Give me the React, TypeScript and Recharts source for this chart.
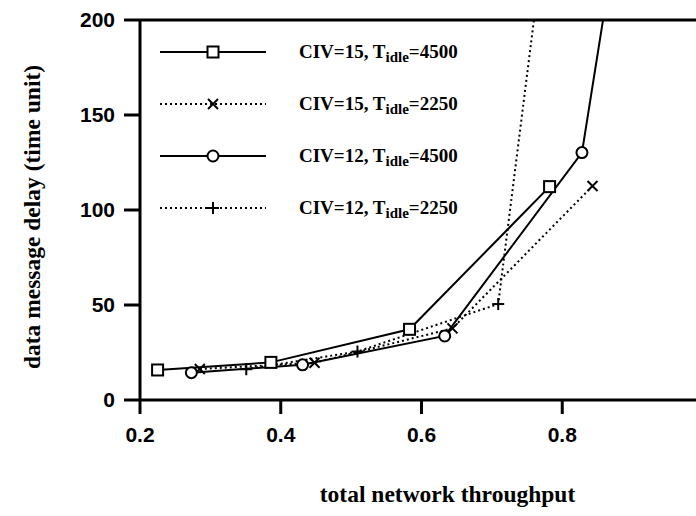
import { LineChart, Line, XAxis, YAxis, ReferenceLine, Legend, Label } from 'recharts';

// axis ticks
const xTicks = [0.2, 0.4, 0.6, 0.8];
const yTicks = [0, 50, 100, 150, 200];

// CIV=15, Tidle=4500 (solid, squares)
const civ15Idle4500X = [0.225, 0.386, 0.583, 0.782];
const civ15Idle4500Y = [15.8, 19.8, 37.2, 112.3];

// CIV=15, Tidle=2250 (dotted, crosses)
const civ15Idle2250X = [0.285, 0.448, 0.644, 0.843];
const civ15Idle2250Y = [16.3, 19.6, 37.7, 112.6];

// CIV=12, Tidle=4500 (solid, circles) - last point is off the top
const civ12Idle4500X = [0.273, 0.431, 0.633, 0.828, 0.9];
const civ12Idle4500Y = [14.4, 18.5, 33.7, 130.2, 298];

// CIV=12, Tidle=2250 (dotted, plus) - last point is off the top
const civ12Idle2250X = [0.351, 0.509, 0.709, 0.79];
const civ12Idle2250Y = [16.2, 25.5, 50.5, 289];

const toPoints = (xs: number[], ys: number[]) => xs.map((x, i) => ({ x, y: ys[i] }));

type Shape = 'square' | 'cross' | 'circle' | 'plus';

const series: { civ: string; idle: string; shape: Shape; dotted: boolean; data: { x: number; y: number }[] }[] = [
  { civ: '15', idle: '4500', shape: 'square', dotted: false, data: toPoints(civ15Idle4500X, civ15Idle4500Y) },
  { civ: '15', idle: '2250', shape: 'cross', dotted: true, data: toPoints(civ15Idle2250X, civ15Idle2250Y) },
  { civ: '12', idle: '4500', shape: 'circle', dotted: false, data: toPoints(civ12Idle4500X, civ12Idle4500Y) },
  { civ: '12', idle: '2250', shape: 'plus', dotted: true, data: toPoints(civ12Idle2250X, civ12Idle2250Y) },
];

const DOTS = '2 3';

function Marker({ shape, cx, cy }: { shape: Shape; cx: number; cy: number }) {
  if (shape === 'square')
    return <rect x={cx - 5.5} y={cy - 5.5} width={11} height={11} fill="#fff" stroke="#000" strokeWidth={2} />;
  if (shape === 'circle') return <circle cx={cx} cy={cy} r={5.5} fill="#fff" stroke="#000" strokeWidth={2} />;
  if (shape === 'cross')
    return (
      <g stroke="#000" strokeWidth={2}>
        <line x1={cx - 5} y1={cy - 5} x2={cx + 5} y2={cy + 5} />
        <line x1={cx - 5} y1={cy + 5} x2={cx + 5} y2={cy - 5} />
      </g>
    );
  return (
    <g stroke="#000" strokeWidth={2}>
      <line x1={cx - 6} y1={cy} x2={cx + 6} y2={cy} />
      <line x1={cx} y1={cy - 6} x2={cx} y2={cy + 6} />
    </g>
  );
}

const dotFor = (shape: Shape) => (props: any) => {
  const { cx, cy, key, index } = props;
  if (cx == null || cy == null) return <g key={key ?? index} />;
  return (
    <g key={key ?? index}>
      <Marker shape={shape} cx={cx} cy={cy} />
    </g>
  );
};

function LegendBox() {
  return (
    <div style={{ fontFamily: '"Liberation Serif", serif', fontWeight: 'bold', fontSize: 19, color: '#000' }}>
      {series.map((s) => (
        <div key={s.civ + s.idle} style={{ height: 52, display: 'flex', alignItems: 'center' }}>
          <svg width={106} height={16} style={{ display: 'block' }}>
            <line x1={0} y1={8} x2={106} y2={8} stroke="#000" strokeWidth={2} strokeDasharray={s.dotted ? DOTS : undefined} />
            <Marker shape={s.shape} cx={53} cy={8} />
          </svg>
          <span style={{ marginLeft: 33, whiteSpace: 'nowrap' }}>
            CIV={s.civ}, T<span style={{ fontSize: 15, position: 'relative', top: 4 }}>idle</span>={s.idle}
          </span>
        </div>
      ))}
    </div>
  );
}

const XTitle = (props: any) => {
  const vb = props.viewBox;
  return (
    <text x={vb.x + vb.width / 2 + 26} y={vb.y + 102} textAnchor="middle" fill="#000"
      style={{ fontFamily: '"Liberation Serif", serif', fontWeight: 'bold', fontSize: 23.5 }}>
      total network throughput
    </text>
  );
};

const YTitle = (props: any) => {
  const vb = props.viewBox;
  const cx = vb.x + 32;
  const cy = vb.y + vb.height / 2 + 7;
  return (
    <text x={cx} y={cy} textAnchor="middle" dominantBaseline="central" transform={`rotate(-90 ${cx} ${cy})`} fill="#000"
      style={{ fontFamily: '"Liberation Serif", serif', fontWeight: 'bold', fontSize: 23.5 }}>
      data message delay (time unit)
    </text>
  );
};

const tickStyle = { fill: '#000', fontSize: 21, fontWeight: 'bold', fontFamily: '"Liberation Sans", Arial, sans-serif' };

export default function App() {
  return (
    <div style={{ position: 'absolute', left: 0, top: 0, width: 696, height: 516, overflow: 'hidden', background: '#fff' }}>
      <LineChart width={710} height={516} margin={{ top: 20, right: 7, bottom: 0, left: 0 }}>
        <XAxis
          type="number"
          dataKey="x"
          domain={[0.2, 1]}
          ticks={xTicks}
          allowDataOverflow
          height={116}
          tickSize={14}
          tickMargin={13}
          tickFormatter={(v) => v.toFixed(1)}
          axisLine={{ stroke: '#000', strokeWidth: 3 }}
          tickLine={{ stroke: '#000', strokeWidth: 3 }}
          tick={tickStyle}
        >
          <Label content={XTitle} />
        </XAxis>
        <YAxis
          type="number"
          domain={[0, 200]}
          ticks={yTicks}
          allowDataOverflow
          width={140}
          tickSize={16}
          tickMargin={9}
          axisLine={{ stroke: '#000', strokeWidth: 3 }}
          tickLine={{ stroke: '#000', strokeWidth: 3 }}
          tick={tickStyle}
        >
          <Label content={YTitle} />
        </YAxis>
        <ReferenceLine y={200} stroke="#000" strokeWidth={3} />
        <Legend
          content={LegendBox}
          layout="horizontal"
          verticalAlign="middle"
          align="center"
          wrapperStyle={{ left: 160, top: 26, width: 340 }}
        />
        {series.map((s) => (
          <Line
            key={s.civ + s.idle}
            name={`CIV=${s.civ}, Tidle=${s.idle}`}
            data={s.data}
            dataKey="y"
            type="linear"
            stroke="#000"
            strokeWidth={2}
            strokeDasharray={s.dotted ? DOTS : undefined}
            dot={dotFor(s.shape)}
            activeDot={false}
            isAnimationActive={false}
          />
        ))}
      </LineChart>
    </div>
  );
}
